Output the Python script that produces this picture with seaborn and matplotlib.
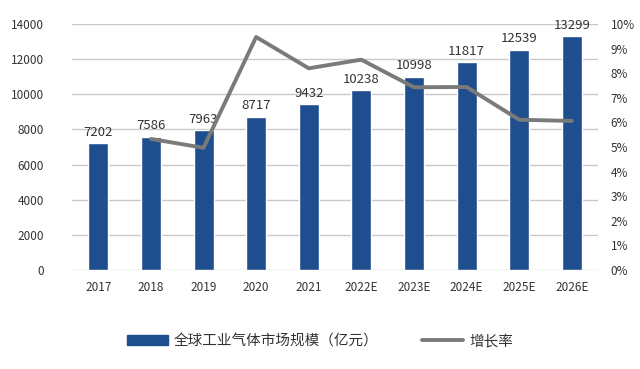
import matplotlib
matplotlib.use('Agg')
import matplotlib.pyplot as plt
import seaborn as sns
import pandas as pd
import numpy as np
from matplotlib.patches import Patch
from matplotlib.lines import Line2D
from matplotlib.ticker import PercentFormatter

# data
years = ['2017', '2018', '2019', '2020', '2021', '2022E', '2023E', '2024E', '2025E', '2026E']
market_size = [7202, 7586, 7963, 8717, 9432, 10238, 10998, 11817, 12539, 13299]
growth_rate = [np.nan, 5.33, 4.97, 9.47, 8.20, 8.55, 7.43, 7.44, 6.11, 6.06]

bar_label = '全球工业气体市场规模（亿元）'
line_label = '增长率'

sns.set_style('white')
plt.rcParams['font.family'] = ['Noto Sans CJK SC', 'DejaVu Sans']

bar_color = '#1F4E8F'
line_color = '#7A7A7A'
text_color = '#333333'

df = pd.DataFrame({'year': years, 'size': market_size, 'growth': growth_rate})

fig = plt.figure(figsize=(6.4, 3.69), dpi=100)
ax = fig.add_axes([0.1125, 0.268, 0.822, 0.667])

sns.barplot(data=df, x='year', y='size', color=bar_color, width=0.38,
            saturation=1, ax=ax, zorder=3)
ax.set_ylim(0, 14000)
ax.set_yticks(range(0, 14001, 2000))
ax.yaxis.grid(True, color='#C8C8C8', linewidth=1, zorder=0)
ax.set_axisbelow(True)
ax.set_xlabel('')
ax.set_ylabel('')
for s in ax.spines.values():
    s.set_visible(False)
ax.tick_params(axis='both', length=0, labelsize=8.5, colors=text_color)
ax.tick_params(axis='y', pad=20)
ax.tick_params(axis='x', pad=8)
ax.set_xlim(-0.5, len(years) - 0.5)

for i, v in enumerate(market_size):
    ax.text(i, v + 250, str(v), ha='center', va='bottom', fontsize=9.5,
            color=text_color, zorder=5)

ax2 = ax.twinx()
sns.lineplot(x=np.arange(len(years)), y=growth_rate, color=line_color,
             linewidth=2.8, ax=ax2, zorder=4)
ax2.set_ylim(0, 10)
ax2.set_yticks(range(0, 11))
ax2.yaxis.set_major_formatter(PercentFormatter(decimals=0))
ax2.tick_params(axis='y', length=0, labelsize=8.5, colors=text_color, pad=9)
for s in ax2.spines.values():
    s.set_visible(False)
ax2.set_xlim(-0.5, len(years) - 0.5)

handles = [Patch(facecolor=bar_color, edgecolor=bar_color, label=bar_label),
           Line2D([0], [0], color=line_color, linewidth=2.8, label=line_label)]
fig.legend(handles=handles, loc='center', bbox_to_anchor=(0.5, 0.075), ncol=2,
           frameon=False, fontsize=10.5, handlelength=2.8, handletextpad=0.4,
           columnspacing=3, labelcolor=text_color)

fig.savefig('out.png', dpi=100, facecolor='white')
